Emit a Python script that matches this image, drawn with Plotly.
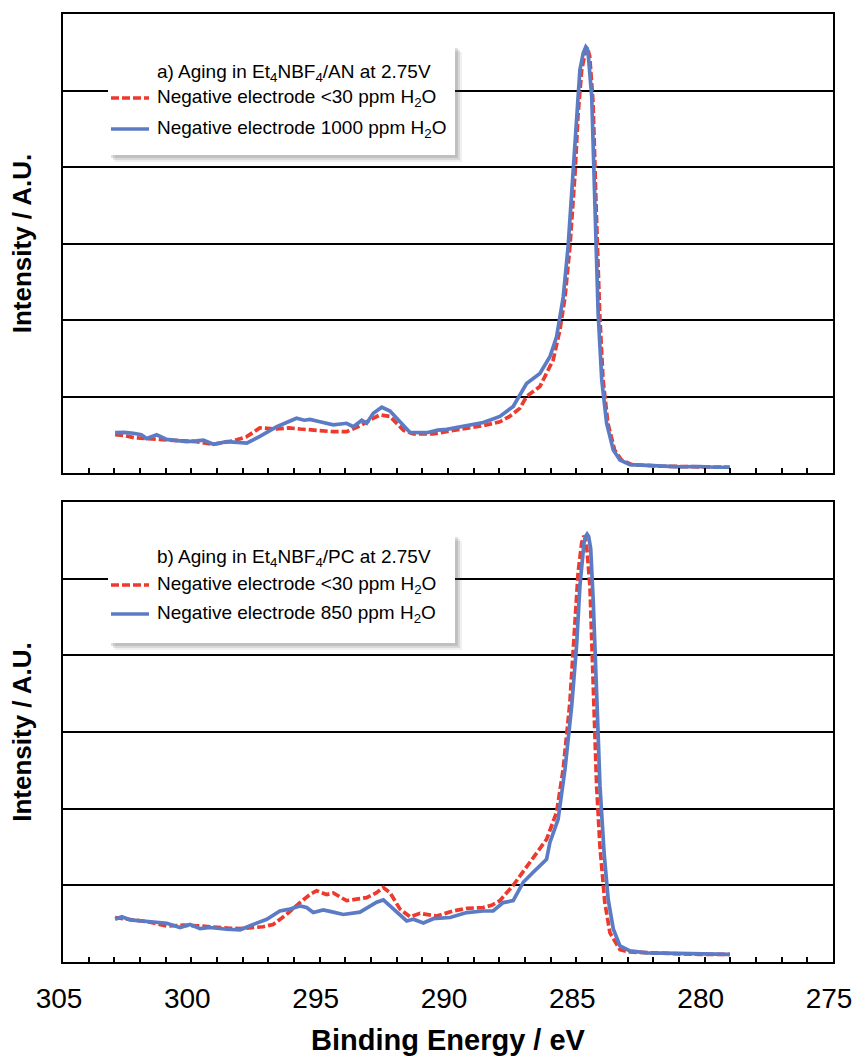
import plotly.graph_objects as go

# ---------------- data ----------------
# Panel a) Et4NBF4/AN
a_red_x = [302.97, 302.60, 302.20, 301.87, 301.40, 300.90, 300.31, 299.80, 299.14, 298.70,
           298.37, 297.84, 297.33, 296.67, 296.20, 295.77, 295.30, 294.80, 294.47,
           293.95, 293.43, 293.00, 292.65, 292.26, 291.74, 291.35, 290.57, 289.90, 289.27,
           288.60, 287.98, 287.60, 287.20,
           286.94, 286.42, 285.90, 285.64, 285.44, 285.25, 285.05, 284.93, 284.79, 284.66,
           284.57, 284.48, 284.35, 284.22, 284.09, 283.96, 283.77, 283.51, 283.24, 282.83,
           282.30, 281.75, 281.00, 280.19, 279.60, 279.02]
a_red_y = [0.50, 0.49, 0.46, 0.45, 0.44, 0.43, 0.42, 0.41, 0.375, 0.40,
           0.42, 0.475, 0.59, 0.575, 0.59, 0.575, 0.56, 0.55, 0.54,
           0.54, 0.615, 0.70, 0.76, 0.74, 0.56, 0.51, 0.51, 0.55, 0.585,
           0.62, 0.67, 0.74, 0.845,
           1.00, 1.13, 1.48, 1.87, 2.30, 2.96, 3.92, 4.70, 5.27, 5.49,
           5.56, 5.45, 4.85, 3.39, 2.09, 1.22, 0.65, 0.30, 0.17, 0.11,
           0.095, 0.09, 0.085, 0.08, 0.08, 0.075]

a_blue_x = [302.97, 302.60, 302.26, 301.95, 301.74, 301.35, 300.96, 300.60, 300.18, 299.80,
            299.53, 299.14, 298.62, 298.20, 297.84,
            297.33, 296.67, 296.29, 295.90, 295.60, 295.38, 294.99, 294.47, 293.95, 293.69, 293.36,
            293.17, 292.91, 292.58, 292.26, 291.87, 291.48, 290.83, 290.40, 290.05, 289.60, 289.27, 288.90, 288.63,
            288.30, 287.98, 287.46, 286.94, 286.42, 286.03, 285.77, 285.51, 285.32, 285.12, 284.99,
            284.86, 284.73, 284.68, 284.63, 284.58, 284.54, 284.40, 284.28, 284.15, 284.01, 283.82, 283.56,
            283.30, 282.91, 282.26, 281.60, 280.96, 280.20, 279.60, 279.02]
a_blue_y = [0.527, 0.53, 0.52, 0.50, 0.45, 0.50, 0.44, 0.43, 0.41, 0.42,
            0.43, 0.375, 0.41, 0.40, 0.39,
            0.48, 0.605, 0.66, 0.715, 0.69, 0.70, 0.67, 0.63, 0.65, 0.605, 0.69,
            0.65, 0.78, 0.86, 0.81, 0.67, 0.53, 0.527, 0.56, 0.57, 0.60, 0.61, 0.64, 0.66,
            0.70, 0.74, 0.87, 1.17, 1.30, 1.52, 1.78, 2.30, 2.96, 3.92, 4.70,
            5.27, 5.49, 5.55, 5.57, 5.55, 5.49, 4.92, 3.39, 2.09, 1.22, 0.65, 0.30,
            0.17, 0.11, 0.095, 0.09, 0.08, 0.085, 0.075, 0.075]

# Panel b) Et4NBF4/PC
b_red_x = [302.97, 302.30, 301.61, 300.96, 300.30, 299.66, 299.01, 298.50, 298.10, 297.59, 297.20,
           296.81, 296.29, 295.77,
           295.38, 295.12, 294.73, 294.47, 293.95, 293.56, 293.17, 292.80, 292.52, 292.26, 291.87,
           291.48, 291.09, 290.44, 289.80, 289.27, 288.63, 288.30, 287.98, 287.46, 286.81, 286.16,
           285.77, 285.51, 285.25, 285.05, 284.93, 284.79, 284.74, 284.70, 284.64, 284.60, 284.47, 284.34,
           284.21, 284.08, 283.89, 283.69, 283.30, 282.91, 282.30, 281.75, 280.90, 280.19, 279.60, 279.02]
b_red_y = [0.58, 0.55, 0.52, 0.47, 0.48, 0.47, 0.45, 0.44, 0.435, 0.45, 0.46,
           0.49, 0.62, 0.775,
           0.88, 0.93, 0.88, 0.90, 0.80, 0.82, 0.84, 0.90, 0.97, 0.905, 0.69,
           0.59, 0.635, 0.60, 0.665, 0.70, 0.71, 0.74, 0.80, 1.00, 1.30, 1.60,
           1.95, 2.52, 3.39, 4.34, 5.08, 5.47, 5.54, 5.56, 5.52, 5.43, 4.91, 3.60,
           2.30, 1.51, 0.775, 0.38, 0.16, 0.13, 0.12, 0.11, 0.105, 0.10, 0.10, 0.10]

b_blue_x = [302.97, 302.71, 302.39, 301.61, 300.96, 300.44, 300.05, 299.66, 299.27, 298.62,
            298.10, 297.59, 297.06, 296.55, 296.16, 295.77, 295.51, 295.25, 294.86, 294.47,
            294.08, 293.43, 293.17, 292.78, 292.52, 292.26, 291.87, 291.61, 291.35, 290.96,
            290.57, 289.92, 289.27, 288.63, 288.24, 287.85, 287.46, 287.07, 286.68, 286.16,
            286.03, 285.71, 285.44, 285.18, 284.99, 284.86, 284.70, 284.64, 284.58, 284.52, 284.44, 284.34,
            284.21, 284.08, 283.92, 283.76, 283.56, 283.30, 282.91, 282.26, 281.60, 280.96,
            280.20, 279.60, 279.02]
b_blue_y = [0.557, 0.59, 0.55, 0.52, 0.505, 0.45, 0.49, 0.435, 0.45, 0.427,
            0.42, 0.49, 0.557, 0.665, 0.69, 0.73, 0.71, 0.645, 0.68, 0.65,
            0.62, 0.65, 0.70, 0.78, 0.81, 0.73, 0.62, 0.535, 0.557, 0.51,
            0.565, 0.58, 0.645, 0.665, 0.665, 0.775, 0.80, 1.04, 1.17, 1.34,
            1.56, 1.86, 2.52, 3.34, 4.13, 4.91, 5.47, 5.55, 5.58, 5.55, 5.39, 4.69,
            3.52, 2.30, 1.43, 0.82, 0.43, 0.21, 0.145, 0.12, 0.115, 0.11,
            0.105, 0.10, 0.10]

legend_titles = ["a) Aging in Et<sub>4</sub>NBF<sub>4</sub>/AN at 2.75V",
                 "b) Aging in Et<sub>4</sub>NBF<sub>4</sub>/PC at 2.75V"]
red_names = ["Negative electrode &lt;30 ppm H<sub>2</sub>O",
             "Negative electrode &lt;30 ppm H<sub>2</sub>O"]
blue_names = ["Negative electrode 1000 ppm H<sub>2</sub>O",
              "Negative electrode 850 ppm H<sub>2</sub>O"]

x_ticks = [305, 300, 295, 290, 285, 280, 275]

# ---------------- styling / layout ----------------
W, H = 854, 1056
L, R, T, B = 63, 833, 14, 962          # plot area, in screen pixels
FONT = "Liberation Sans, Arial, sans-serif"
RED = "#ee3a2c"
BLUE = "#5b7cc4"
RED_DASH = "8px,3px"

def px(xp):
    return (xp - L) / (R - L)

def py(yp):
    return (B - yp) / (B - T)

fig = go.Figure()

panels = [
    dict(rx=a_red_x, ry=a_red_y, bx=a_blue_x, by=a_blue_y, xa="x", ya="y",
         box=(108, 455, 45, 155), ty=73, ry_=98, by_=129),
    dict(rx=b_red_x, ry=b_red_y, bx=b_blue_x, by=b_blue_y, xa="x2", ya="y2",
         box=(108, 455, 534, 643), ty=558, ry_=585, by_=614),
]

for i, p in enumerate(panels):
    fig.add_trace(go.Scatter(x=p["rx"], y=p["ry"], mode="lines", name=red_names[i],
                             line=dict(color=RED, width=3.7, dash=RED_DASH),
                             xaxis=p["xa"], yaxis=p["ya"], showlegend=False))
    fig.add_trace(go.Scatter(x=p["bx"], y=p["by"], mode="lines", name=blue_names[i],
                             line=dict(color=BLUE, width=3.7),
                             xaxis=p["xa"], yaxis=p["ya"], showlegend=False))

top_dom = [py(473), 1.0]
bot_dom = [0.0, py(502)]

xcommon = dict(range=[305, 275], tickvals=x_ticks, ticks="inside", ticklen=5,
               tickwidth=1.5, tickcolor="black",
               minor=dict(dtick=1, ticks="inside", ticklen=5, tickwidth=1.5, tickcolor="black"),
               showgrid=False, zeroline=False, showline=True, linecolor="black",
               linewidth=2, mirror=True, fixedrange=True, automargin=False)
ycommon = dict(range=[0, 6], dtick=1, showticklabels=False, ticks="",
               showgrid=True, gridcolor="black", gridwidth=1.5, zeroline=False,
               showline=True, linecolor="black", linewidth=2, mirror=True,
               fixedrange=True, automargin=False,
               title=dict(text="<b>Intensity / A.U.</b>", font=dict(size=26, family=FONT, color="black"),
                          standoff=22))

fig.update_layout(
    width=W, height=H,
    margin=dict(l=L, r=W - R, t=T, b=H - B, autoexpand=False),
    paper_bgcolor="white", plot_bgcolor="white",
    font=dict(family=FONT, color="black"),
    showlegend=False,
    xaxis=dict(domain=[0, 1], anchor="y", showticklabels=False, **xcommon),
    yaxis=dict(domain=top_dom, anchor="x", **ycommon),
    xaxis2=dict(domain=[0, 1], anchor="y2", showticklabels=True,
                tickfont=dict(size=28, family=FONT, color="black"),
                ticklabelstandoff=10, ticklabelshift=4, ticklabeloverflow="allow",
                title=dict(text="<b>Binding Energy / eV</b>",
                           font=dict(size=29, family=FONT, color="black"), standoff=28),
                **xcommon),
    yaxis2=dict(domain=bot_dom, anchor="x2", **ycommon),
)

shapes = []
annotations = []
LEG_FONT = dict(size=19, family=FONT, color="black")
for i, p in enumerate(panels):
    x0, x1, y0, y1 = p["box"]
    # soft shadow
    for k, op in [(7, 0.08), (5, 0.12), (3, 0.16)]:
        shapes.append(dict(type="rect", xref="paper", yref="paper", layer="above",
                           x0=px(x0 + k), x1=px(x1 + k), y0=py(y1 + k), y1=py(y0 + k),
                           fillcolor="rgba(60,60,60,%s)" % op, line=dict(width=0)))
    shapes.append(dict(type="rect", xref="paper", yref="paper", layer="above",
                       x0=px(x0), x1=px(x1), y0=py(y1), y1=py(y0),
                       fillcolor="white", line=dict(width=0)))
    # legend samples
    shapes.append(dict(type="line", xref="paper", yref="paper", layer="above",
                       x0=px(111), x1=px(149), y0=py(p["ry_"]), y1=py(p["ry_"]),
                       line=dict(color=RED, width=3.7, dash=RED_DASH)))
    shapes.append(dict(type="line", xref="paper", yref="paper", layer="above",
                       x0=px(111), x1=px(149), y0=py(p["by_"]), y1=py(p["by_"]),
                       line=dict(color=BLUE, width=3.7)))
    for txt, yy in [(legend_titles[i], p["ty"]), (red_names[i], p["ry_"]), (blue_names[i], p["by_"])]:
        annotations.append(dict(text=txt, xref="paper", yref="paper",
                                x=px(155), y=py(yy), xanchor="left", yanchor="middle",
                                showarrow=False, font=LEG_FONT))

fig.update_layout(shapes=shapes, annotations=annotations, hovermode=False)

fig.write_html("out.html", config=dict(displayModeBar=False),
               post_script="document.body.style.margin='0';document.body.style.overflow='hidden';")
